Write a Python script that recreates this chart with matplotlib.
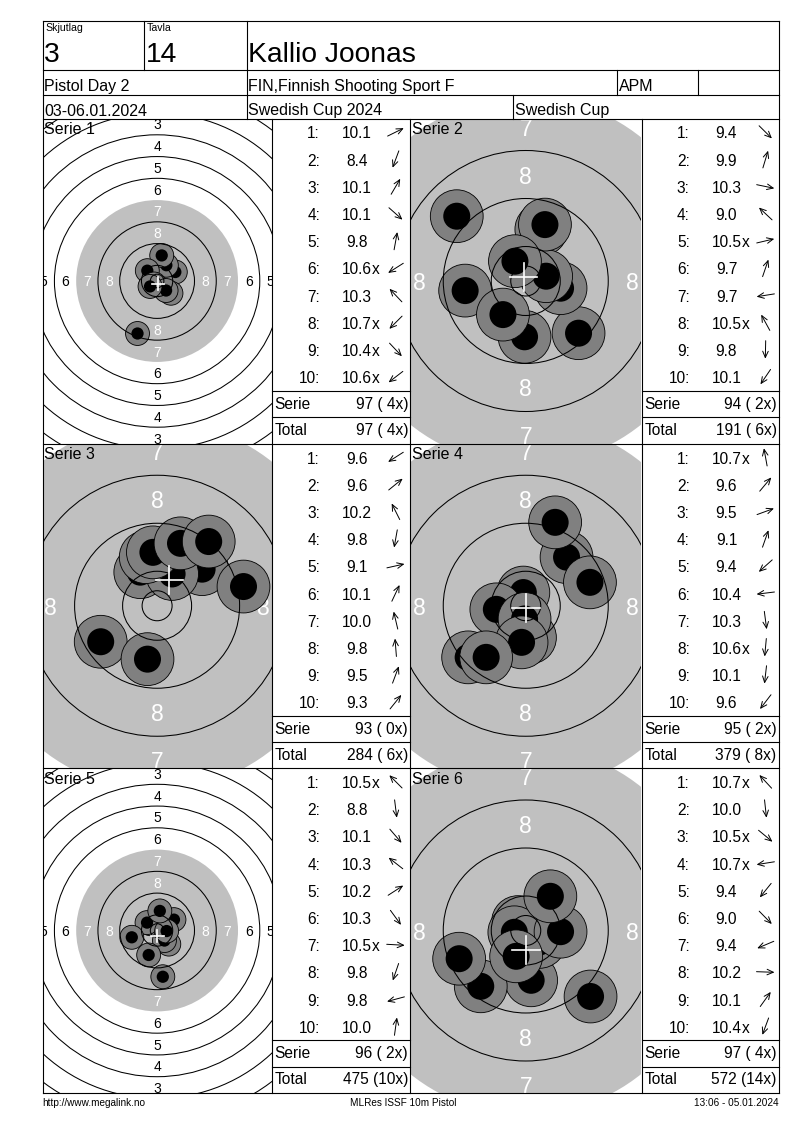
import numpy as np
import matplotlib
matplotlib.use('Agg')
import matplotlib.pyplot as plt
from matplotlib.patches import Circle

plt.rcParams['font.family'] = ['Liberation Sans', 'DejaVu Sans']

# header texts
squad = '3'
lane = '14'
shooter = 'Kallio Joonas'
event = 'Pistol Day 2'
club = 'FIN,Finnish Shooting Sport F'
klass = 'APM'
dates = '03-06.01.2024'
match = 'Swedish Cup 2024'
cup = 'Swedish Cup'
foot_left = 'http://www.megalink.no'
foot_mid = 'MLRes ISSF 10m Pistol'
foot_right = '13:06 - 05.01.2024'

series = ['Serie 1', 'Serie 2', 'Serie 3', 'Serie 4', 'Serie 5', 'Serie 6']

scores = [
    ['10.1', '8.4', '10.1', '10.1', '9.8', '10.6x', '10.3', '10.7x', '10.4x', '10.6x'],
    ['9.4', '9.9', '10.3', '9.0', '10.5x', '9.7', '9.7', '10.5x', '9.8', '10.1'],
    ['9.6', '9.6', '10.2', '9.8', '9.1', '10.1', '10.0', '9.8', '9.5', '9.3'],
    ['10.7x', '9.6', '9.5', '9.1', '9.4', '10.4', '10.3', '10.6x', '10.1', '9.6'],
    ['10.5x', '8.8', '10.1', '10.3', '10.2', '10.3', '10.5x', '9.8', '9.8', '10.0'],
    ['10.7x', '10.0', '10.5x', '10.7x', '9.4', '9.0', '9.4', '10.2', '10.1', '10.4x'],
]

# shot positions in mm from the target centre (y up), in shot order
shot_x = [
    [6.7, -7.2, 3.4, 5.1, 1.7, -2.2, -3.6, -1.1, 3.3, -2.6],
    [8.8, 2.6, 5.8, -11.5, 3.4, 3.2, -10.1, -1.8, -0.2, -3.8],
    [-9.4, 7.5, -2.8, -1.6, 14.4, 2.5, -1.9, -0.7, 3.9, 8.6],
    [-0.4, 6.8, 10.7, 4.9, -9.6, -4.9, 0.7, -0.2, -0.7, -6.6],
    [-2.5, 2.1, 4.3, -3.7, 6.2, 2.7, 3.5, -3.1, -9.3, 1.0],
    [-1.3, 0.9, 2.3, -1.9, -7.5, 10.8, -11.1, 5.8, 4.1, -1.6],
]
shot_y = [
    [3.3, -19.3, 5.8, -4.5, 9.4, -1.4, 3.8, -1.1, -3.5, -2.0],
    [-8.7, 8.6, -1.2, 10.8, 0.8, 9.4, -1.6, 3.3, -9.3, -5.6],
    [-6.0, 6.1, 5.6, -8.9, 3.2, 5.3, 8.1, 8.9, 10.4, 10.7],
    [2.2, 8.1, 3.9, 13.9, -8.6, -0.6, -5.3, -2.2, -6.1, -8.6],
    [2.5, -17.0, -5.0, 2.9, 4.0, -3.7, -0.2, -9.0, -2.5, 7.2],
    [1.4, -8.3, -1.9, -0.3, -9.3, -11.0, -4.7, -0.2, 5.7, -4.3],
]

# pixels per mm of each target view
zoom = [2.72, 6.0, 6.0, 6.0, 2.72, 6.0]

W, H = 800, 1130
X0, X1 = 42.5, 778.5
ROWS = [118.5, 443.5, 768, 1093]
COLS = [42.5, 271.7, 410, 641.5, 778.5]
LW = 0.8

fig = plt.figure(figsize=(8, 11.3), dpi=100)
page = fig.add_axes([0, 0, 1, 1], zorder=5)
page.set_xlim(0, W)
page.set_ylim(H, 0)
page.axis('off')


def hline(y, xa, xb):
    page.plot([xa, xb], [y, y], color='black', lw=LW, solid_capstyle='projecting')


def vline(x, ya, yb):
    page.plot([x, x], [ya, yb], color='black', lw=LW, solid_capstyle='projecting')


def txt(x, y, s, size, ha='left'):
    page.text(x, y, s, fontsize=size, ha=ha, va='baseline', color='black')


# header grid
for y in [21, 70, 95, 118.5]:
    hline(y, X0, X1)
vline(X0, 21, ROWS[-1])
vline(X1, 21, ROWS[-1])
vline(144.3, 21, 70)
vline(246.5, 21, 118.5)
vline(617, 70, 95)
vline(698, 70, 95)
vline(513.3, 95, 118.5)

txt(45, 31, 'Skjutlag', 7.6)
txt(146.5, 31, 'Tavla', 7.6)
txt(44, 61.5, squad, 20.3)
txt(146, 61.5, lane, 20.3)
txt(248, 61.5, shooter, 20.3)
txt(44, 91, event, 11.5)
txt(248, 91, club, 11.5)
txt(618.5, 91, klass, 11.5)
txt(44, 115.5, dates, 11.5)
txt(248, 115.5, match, 11.5)
txt(515, 115.5, cup, 11.5)

# panel grid
for y in ROWS[1:]:
    hline(y, X0, X1)
for x in COLS[1:4]:
    vline(x, ROWS[0], ROWS[-1])

ring_r = {n: 5.75 + 8 * (10 - n) for n in range(1, 11)}


def draw_target(ax, xs, ys, full):
    # the zoomed views draw the aiming black a little wider
    ax.add_patch(Circle((0, 0), 29.75 if full else 30.7, fc='#c0c0c0', ec='none', zorder=1))
    fs = 10 if full else 16.5
    for n in range(1, 9):
        mid = ring_r[n] - 4
        col = 'white' if n >= 7 else 'black'
        for px, py in [(0, mid), (0, -mid), (-mid, 0), (mid, 0)]:
            ax.text(px, py, str(n), fontsize=fs, color=col, ha='center',
                    va='center_baseline', zorder=2, clip_on=True)
    for x, y in zip(xs, ys):
        ax.add_patch(Circle((x, y), 4.4, fc='#808080', ec='black', lw=0.6, zorder=3))
        ax.add_patch(Circle((x, y), 2.25, fc='black', ec='none', zorder=3))
    for n in range(1, 11):
        if n == 7:
            continue
        ax.add_patch(Circle((0, 0), ring_r[n], fill=False, ec='black', lw=0.75, zorder=4))
    ax.add_patch(Circle((0, 0), 2.5, fill=False, ec='black', lw=0.75, zorder=4))
    mx, my = np.mean(xs), np.mean(ys)
    arm = 2.3
    ax.plot([mx - arm, mx + arm], [my, my], color='white', lw=1.2, zorder=5)
    ax.plot([mx, mx], [my - arm, my + arm], color='white', lw=1.2, zorder=5)


total = 0
total_x = 0
for i in range(6):
    r, c = i // 2, i % 2
    top, bot = ROWS[r], ROWS[r + 1]
    tl, tr = COLS[2 * c], COLS[2 * c + 1]
    sl, sr = COLS[2 * c + 1], COLS[2 * c + 2]
    s = zoom[i]
    w, h = tr - tl, bot - top
    ax = fig.add_axes([tl / W, 1 - bot / H, w / W, h / H])
    ax.set_xlim(-w / 2 / s, w / 2 / s)
    ax.set_ylim(-h / 2 / s, h / 2 / s)
    ax.axis('off')
    xs, ys = np.array(shot_x[i]), np.array(shot_y[i])
    draw_target(ax, xs, ys, s < 3)
    txt(tl + 1.5, top + 15.5, series[i], 11.5)

    # score column
    for k, sc in enumerate(scores[i]):
        base = top + 27.2 * k + 20
        cy = top + 27.2 * (k + 0.5)
        txt(sl + 48.3, base, f'{k + 1}:', 11.2, ha='right')
        txt(sl + 85, base, sc.rstrip('x'), 11.2, ha='center')
        if sc.endswith('x'):
            txt(sl + 85 + 15.2, base, 'x', 11.2)
        ang = np.arctan2(ys[k], xs[k])
        dx, dy = 9 * np.cos(ang), -9 * np.sin(ang)
        ax_x = sl + 124
        page.annotate('', xy=(ax_x + dx, cy + dy), xytext=(ax_x - dx, cy - dy),
                      arrowprops=dict(arrowstyle='->,head_length=0.45,head_width=0.2',
                                      lw=0.7, color='black', shrinkA=0, shrinkB=0,
                                      mutation_scale=10))
    pts = sum(int(float(v.rstrip('x'))) for v in scores[i])
    nx = sum(v.endswith('x') for v in scores[i])
    total += pts
    total_x += nx
    hline(top + 272, sl, sr)
    hline(top + 298.5, sl, sr)
    txt(sl + 3, top + 290.2, 'Serie', 11.2)
    txt(sr - 2, top + 290.2, f'{pts} ({nx:2d}x)', 11.2, ha='right')
    txt(sl + 3, top + 316.2, 'Total', 11.2)
    txt(sr - 2, top + 316.2, f'{total} ({total_x:2d}x)', 11.2, ha='right')

txt(42, 1105.5, foot_left, 7.2)
txt(403, 1105.5, foot_mid, 7.2, ha='center')
txt(779, 1105.5, foot_right, 7.2, ha='right')

fig.savefig('out.png', dpi=100, facecolor='white')
